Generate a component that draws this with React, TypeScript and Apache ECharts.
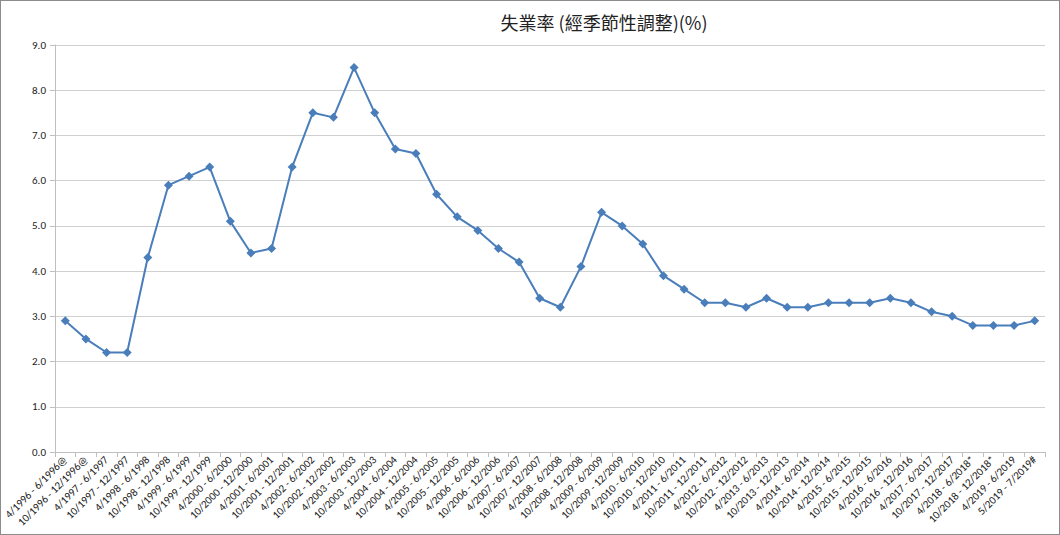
import React, { useEffect, useRef } from "react";
import * as echarts from "echarts";

const categories = [
  "4/1996 - 6/1996@", "10/1996 - 12/1996@", "4/1997 - 6/1997", "10/1997 - 12/1997",
  "4/1998 - 6/1998", "10/1998 - 12/1998", "4/1999 - 6/1999", "10/1999 - 12/1999",
  "4/2000 - 6/2000", "10/2000 - 12/2000", "4/2001 - 6/2001", "10/2001 - 12/2001",
  "4/2002 - 6/2002", "10/2002 - 12/2002", "4/2003 - 6/2003", "10/2003 - 12/2003",
  "4/2004 - 6/2004", "10/2004 - 12/2004", "4/2005 - 6/2005", "10/2005 - 12/2005",
  "4/2006 - 6/2006", "10/2006 - 12/2006", "4/2007 - 6/2007", "10/2007 - 12/2007",
  "4/2008 - 6/2008", "10/2008 - 12/2008", "4/2009 - 6/2009", "10/2009 - 12/2009",
  "4/2010 - 6/2010", "10/2010 - 12/2010", "4/2011 - 6/2011", "10/2011 - 12/2011",
  "4/2012 - 6/2012", "10/2012 - 12/2012", "4/2013 - 6/2013", "10/2013 - 12/2013",
  "4/2014 - 6/2014", "10/2014 - 12/2014", "4/2015 - 6/2015", "10/2015 - 12/2015",
  "4/2016 - 6/2016", "10/2016 - 12/2016", "4/2017 - 6/2017", "10/2017 - 12/2017",
  "4/2018 - 6/2018*", "10/2018 - 12/2018*", "4/2019 - 6/2019", "5/2019 - 7/2019#",
];

const unemploymentRate = [
  2.9, 2.5, 2.2, 2.2, 4.3, 5.9, 6.1, 6.3, 5.1, 4.4, 4.5, 6.3,
  7.5, 7.4, 8.5, 7.5, 6.7, 6.6, 5.7, 5.2, 4.9, 4.5, 4.2, 3.4,
  3.2, 4.1, 5.3, 5.0, 4.6, 3.9, 3.6, 3.3, 3.3, 3.2, 3.4, 3.2,
  3.2, 3.3, 3.3, 3.3, 3.4, 3.3, 3.1, 3.0, 2.8, 2.8, 2.8, 2.9,
];

const titleText = "失業率 (經季節性調整)(%)";

export default function App() {
  const ref = useRef<HTMLDivElement>(null);
  useEffect(() => {
    if (!ref.current) return;
    const chart = echarts.init(ref.current, null, { renderer: "svg" });
    const font = "Carlito, Calibri, 'Liberation Sans', sans-serif";
    chart.setOption({
      animation: false,
      backgroundColor: "#ffffff",
      title: {
        text: titleText,
        left: 598,
        top: 7,
        textAlign: "center",
        textStyle: {
          fontSize: 18,
          fontWeight: "normal",
          color: "#222",
          fontFamily: "'Noto Sans CJK TC', 'Noto Sans', sans-serif",
        },
      },
      grid: { left: 53, right: 14, top: 44, bottom: 82, containLabel: false },
      xAxis: {
        type: "category",
        data: categories,
        boundaryGap: true,
        axisLine: { lineStyle: { color: "#bfbfbf" } },
        axisTick: { show: true, alignWithLabel: false, length: 5, lineStyle: { color: "#bfbfbf" } },
        axisLabel: {
          interval: 0,
          rotate: 45,
          fontSize: 11,
          color: "#222",
          fontFamily: font,
          margin: 6,
        },
      },
      yAxis: {
        type: "value",
        min: 0,
        max: 9,
        interval: 1,
        axisLine: { show: true, lineStyle: { color: "#bfbfbf" } },
        axisTick: { show: true, length: 5, lineStyle: { color: "#bfbfbf" } },
        splitLine: { lineStyle: { color: "#d0d0d0" } },
        axisLabel: {
          formatter: (v: number) => v.toFixed(1),
          fontSize: 11,
          color: "#222",
          fontFamily: font,
          margin: 9,
        },
      },
      series: [
        {
          type: "line",
          data: unemploymentRate,
          symbol: "diamond",
          symbolSize: 9,
          lineStyle: { color: "#4A7EBB", width: 2 },
          itemStyle: { color: "#4A7EBB" },
        },
      ],
    });
    return () => chart.dispose();
  }, []);
  return (
    <div
      style={{
        position: "fixed",
        left: 0,
        top: 0,
        width: 1060,
        height: 535,
        border: "1px solid #8c8c8c",
        boxSizing: "border-box",
        background: "#fff",
      }}
    >
      <div ref={ref} style={{ width: 1058, height: 533 }} />
    </div>
  );
}
